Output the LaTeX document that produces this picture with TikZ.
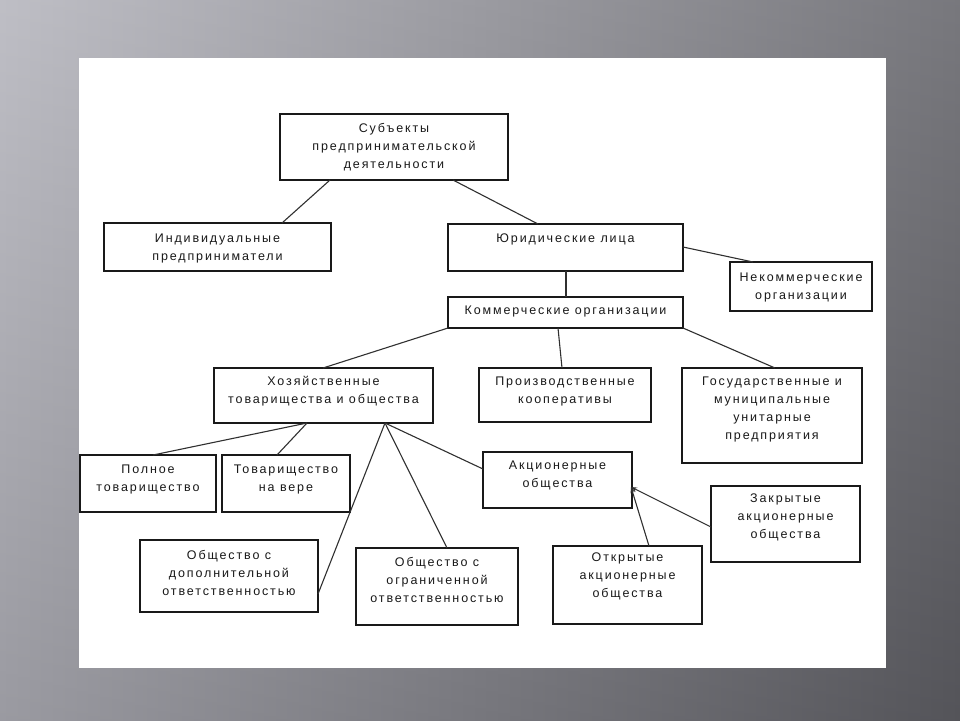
\documentclass[tikz,border=0pt]{standalone}
\usepackage{fontspec}
\newfontfamily\boxfont{Liberation Sans}[LetterSpace=15]
\usetikzlibrary{shadows,arrows.meta}
\definecolor{bgL}{RGB}{180,180,188}
\definecolor{bgR}{RGB}{98,98,104}
\definecolor{ink}{RGB}{25,25,25}
\tikzset{
  box/.style={draw=ink, line width=1.1pt, fill=white, inner sep=0pt, outer sep=0pt,
    general shadow={fill=black!45, shadow xshift=1.4pt, shadow yshift=-1.4pt}},
  txt/.style={align=center, inner sep=0pt, text=ink,
    font=\fontsize{12.5}{18}\selectfont\boxfont},
  link/.style={draw=ink!90, line width=1.1pt},
  arr/.style={link, -{Stealth[length=6pt,width=4.5pt]}}
}
\begin{document}
\begin{tikzpicture}[x=1pt,y=-1pt]
\shade[left color=bgL, right color=bgR] (0,0) rectangle (960,720);
\shade[top color=white, bottom color=black, fill opacity=0.14] (0,0) rectangle (960,720);
\useasboundingbox (0,0) rectangle (960,720);
\fill[white] (79,58) rectangle (886,668);
% boxes
\node[box, minimum width=228, minimum height=66] (A) at (394,147) {};
\node[box, minimum width=227, minimum height=48] (B) at (217.5,247) {};
\node[box, minimum width=235, minimum height=47] (C) at (565.5,247.5) {};
\node[box, minimum width=142, minimum height=49] (D) at (801,286.5) {};
\node[box, minimum width=235, minimum height=31] (E) at (565.5,312.5) {};
\node[box, minimum width=219, minimum height=55] (F) at (323.5,395.5) {};
\node[box, minimum width=172, minimum height=54] (G) at (565,395) {};
\node[box, minimum width=180, minimum height=95] (H) at (772,415.5) {};
\node[box, minimum width=136, minimum height=57] (I) at (148,483.5) {};
\node[box, minimum width=128, minimum height=57] (J) at (286,483.5) {};
\node[box, minimum width=149, minimum height=56] (K) at (557.5,480) {};
\node[box, minimum width=178, minimum height=72] (L) at (229,576) {};
\node[box, minimum width=162, minimum height=77] (M) at (437,586.5) {};
\node[box, minimum width=149, minimum height=78] (N) at (627.5,585) {};
\node[box, minimum width=149, minimum height=76] (O) at (785.5,524) {};
% texts
\node[txt] (At) at (394,147) {Субъекты\\предпринимательской\\деятельности};
\node[txt] (Bt) at (217.5,248) {Индивидуальные\\предприниматели};
\node[txt] (Ct) at (565.5,239) {Юридические лица};
\node[txt] (Dt) at (801,287) {Некоммерческие\\организации};
\node[txt] (Et) at (565.5,311) {Коммерческие организации};
\node[txt] (Ft) at (323.5,391) {Хозяйственные\\товарищества и общества};
\node[txt] (Gt) at (565,391) {Производственные\\кооперативы};
\node[txt] (Ht) at (772,409) {Государственные и\\муниципальные\\унитарные\\предприятия};
\node[txt] (It) at (148,479) {Полное\\товарищество};
\node[txt] (Jt) at (286,479) {Товарищество\\на вере};
\node[txt] (Kt) at (557.5,475) {Акционерные\\общества};
\node[txt] (Lt) at (229,573) {Общество с\\дополнительной\\ответственностью};
\node[txt] (Mt) at (437,580) {Общество с\\ограниченной\\ответственностью};
\node[txt] (Nt) at (627.5,576) {Открытые\\акционерные\\общества};
\node[txt] (Ot) at (785.5,517) {Закрытые\\акционерные\\общества};
% connector points
\coordinate (fb1) at (307,423);
\coordinate (fb2) at (385,423);
\coordinate (kp) at (631,487);
% connectors
\draw[link] (330,180) -- (282,223);
\draw[link] (453,180) -- (538,224);
\draw[link] (683,247) -- (753,262);
\draw[link] (C.south) ++(0.5,0) -- ++(0,26);
\draw[link] (E.south west) -- (323,368);
\draw[link] (558,328) -- (562,368);
\draw[link] (E.south east) -- (775,368);
\draw[link] (fb1) -- (153,455);
\draw[link] (fb1) -- (277,455);
\draw[link] (fb2) -- (318,594);
\draw[link] (fb2) -- (447,548);
\draw[link] (fb2) -- (483,469);
\draw[arr] (649,546) -- (kp);
\draw[arr] (711,527) -- (kp);
\end{tikzpicture}
\end{document}
